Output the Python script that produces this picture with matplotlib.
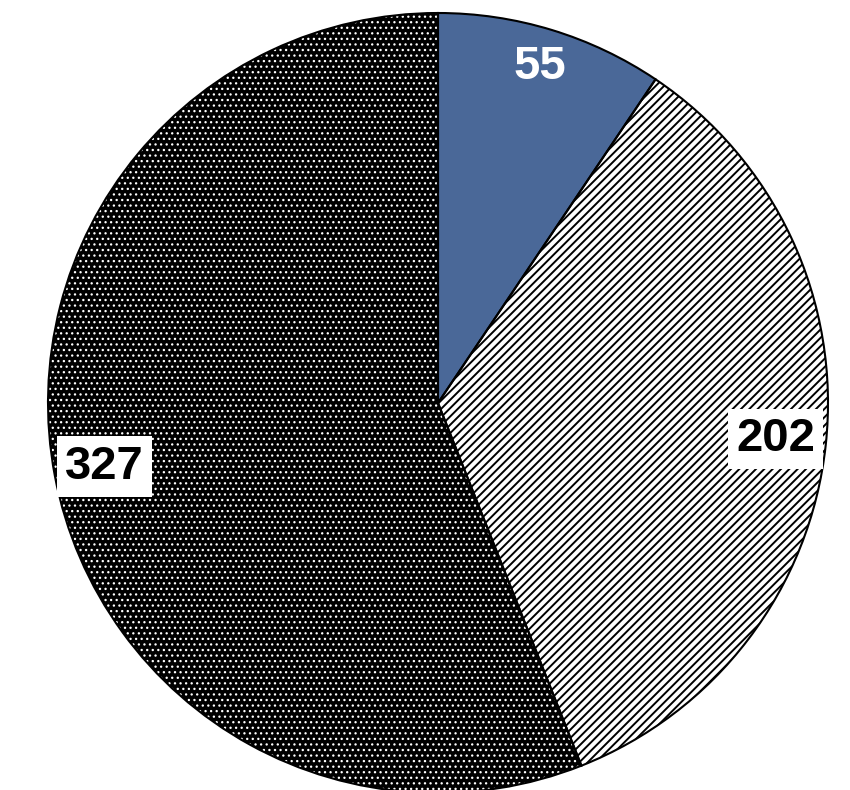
import matplotlib
matplotlib.use("Agg")
import numpy as np
import matplotlib.pyplot as plt

values = [55, 202, 327]
labels = [str(v) for v in values]
face_colors = ["#4a6898", "white", "black"]
hatch_colors = ["#4a6898", "black", "white"]
hatches = [None, "////", "..."]
hatch_widths = [1.0, 1.4, 0.9]
label_colors = ["white", "black", "black"]
label_boxes = [False, True, True]
label_dist = [0.90, 0.87, 0.87]

plt.rcParams["font.family"] = ["Liberation Sans", "DejaVu Sans"]
plt.rcParams["hatch.linewidth"] = 1.4

fig = plt.figure(figsize=(8.5, 7.9), dpi=100)
ax = fig.add_axes([0, 0, 1, 1])

center = (438, 387)
radius = 390

# filled, hatched wedges (hatch colour comes from the edge colour)
wedges, _ = ax.pie(values, startangle=90, counterclock=False,
                   center=center, radius=radius, frame=True)
for w, fc, hc, h, hw in zip(wedges, face_colors, hatch_colors,
                            hatches, hatch_widths):
    w.set_facecolor(fc)
    w.set_edgecolor(hc)
    w.set_linewidth(0)
    if h:
        w.set_hatch(h)
        if hasattr(w, "set_hatch_linewidth"):
            w.set_hatch_linewidth(hw)

# black outlines on top
ax.pie(values, startangle=90, counterclock=False,
       center=center, radius=radius, frame=True,
       wedgeprops=dict(fill=False, edgecolor="black", linewidth=1.5))

# value labels at each wedge's mid-angle
for w, text, c, boxed, d in zip(wedges, labels, label_colors,
                                label_boxes, label_dist):
    mid = np.deg2rad((w.theta1 + w.theta2) / 2)
    x = center[0] + radius * d * np.cos(mid)
    y = center[1] + radius * d * np.sin(mid)
    bbox = dict(facecolor="white", edgecolor="none",
                boxstyle="square,pad=0.17") if boxed else None
    ax.text(x, y, text, ha="center", va="center", color=c,
            fontsize=34, fontweight="bold", bbox=bbox)

ax.set_xlim(0, 850)
ax.set_ylim(0, 790)
ax.set_aspect("equal")
ax.axis("off")
fig.savefig("out.png", dpi=100)
